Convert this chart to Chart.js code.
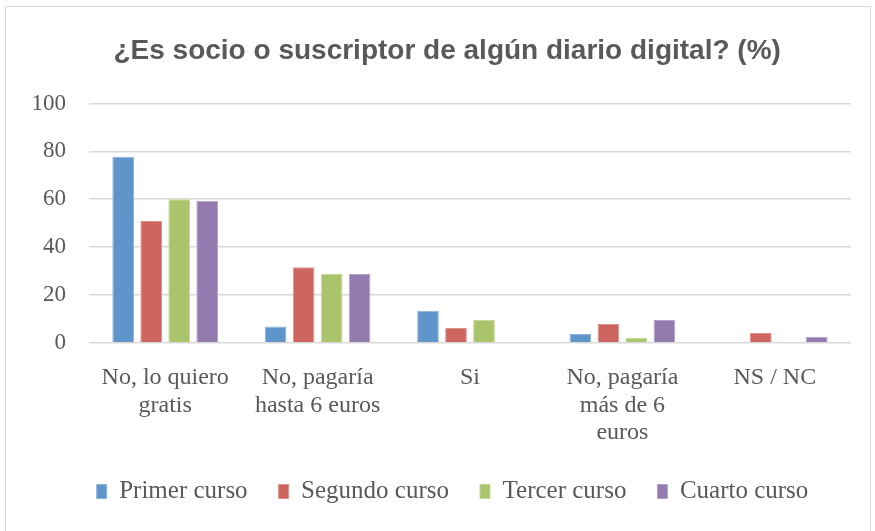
<!DOCTYPE html>
<html>
<head>
<meta charset="utf-8">
<script src="https://cdn.jsdelivr.net/npm/chart.js@4.4.0/dist/chart.umd.min.js"></script>
<style>
  body { margin: 0; background: #fff; }
  #wrap { position: absolute; left: 0; top: 0; width: 875px; height: 531px; }
  #frame { position: absolute; left: 5px; top: 6px; width: 866px; height: 530px; border: 1px solid #d9d9d9; box-sizing: border-box; }
</style>
</head>
<body>
<div id="frame"></div>
<div id="wrap"><canvas id="chart" width="875" height="531"></canvas></div>
<script>
// categorías (etiquetas del eje X, en varias líneas)
const categorias = [
  ["No, lo quiero", "gratis"],
  ["No, pagaría", "hasta 6 euros"],
  ["Si"],
  ["No, pagaría", "más de 6", "euros"],
  ["NS / NC"]
];

// valores por curso (%)
const primerCurso  = [77.8, 6.8, 13.3, 3.6, 0];
const segundoCurso = [50.9, 31.5, 6.1, 7.8, 4.0];
const tercerCurso  = [60.0, 28.7, 9.5, 2.0, 0];
const cuartoCurso  = [59.4, 28.7, 0, 9.5, 2.5];

const ticksY = [0, 20, 40, 60, 80, 100];

const gris = '#595959';
const serif = '"Liberation Serif", "DejaVu Serif", serif';

// mueve la leyenda un poco a la derecha, como en el original
const moverLeyenda = {
  id: 'moverLeyenda',
  afterLayout(chart) {
    chart.legend.left += 17;
    chart.legend.right += 17;
  }
};

new Chart(document.getElementById('chart'), {
  type: 'bar',
  data: {
    labels: categorias,
    datasets: [
      { label: 'Primer curso',  data: primerCurso,  backgroundColor: '#5f95cb', borderColor: '#8fb4dc', borderWidth: 1 },
      { label: 'Segundo curso', data: segundoCurso, backgroundColor: '#cd645e', borderColor: '#de928d', borderWidth: 1 },
      { label: 'Tercer curso',  data: tercerCurso,  backgroundColor: '#a9c46a', borderColor: '#c4d898', borderWidth: 1 },
      { label: 'Cuarto curso',  data: cuartoCurso,  backgroundColor: '#937bb0', borderColor: '#b4a3c9', borderWidth: 1 }
    ]
  },
  plugins: [moverLeyenda],
  options: {
    responsive: false,
    animation: false,
    datasets: { bar: { categoryPercentage: 0.735, barPercentage: 0.775 } },
    layout: { padding: { left: 20, right: 24, top: 4, bottom: 17 } },
    plugins: {
      title: {
        display: true,
        // espacios delante para centrar el título como en el original
        text: '\u00a0\u00a0\u00a0¿Es socio o suscriptor de algún diario digital? (%)',
        color: gris,
        font: { family: '"Liberation Sans", Arial, sans-serif', size: 28, weight: 'bold' },
        padding: { top: 30, bottom: 36 }
      },
      legend: {
        position: 'bottom',
        labels: {
          color: gris,
          font: { family: serif, size: 25 },
          boxWidth: 10,
          boxHeight: 14,
          padding: 31
        }
      },
      tooltip: { enabled: false }
    },
    scales: {
      x: {
        grid: { display: false },
        border: { display: false },
        ticks: { color: gris, font: { family: serif, size: 24, lineHeight: 1.13 }, maxRotation: 0, padding: 14 },
        afterFit: axis => { axis.height -= 12; }
      },
      y: {
        min: 0,
        max: 100,
        afterBuildTicks: axis => { axis.ticks = ticksY.map(v => ({ value: v })); },
        afterFit: axis => { axis.width = 69; },
        grid: { color: '#d9d9d9', lineWidth: 1.5, drawTicks: false },
        border: { display: false },
        ticks: { color: gris, font: { family: serif, size: 23 }, padding: 23 }
      }
    }
  }
});
</script>
</body>
</html>
